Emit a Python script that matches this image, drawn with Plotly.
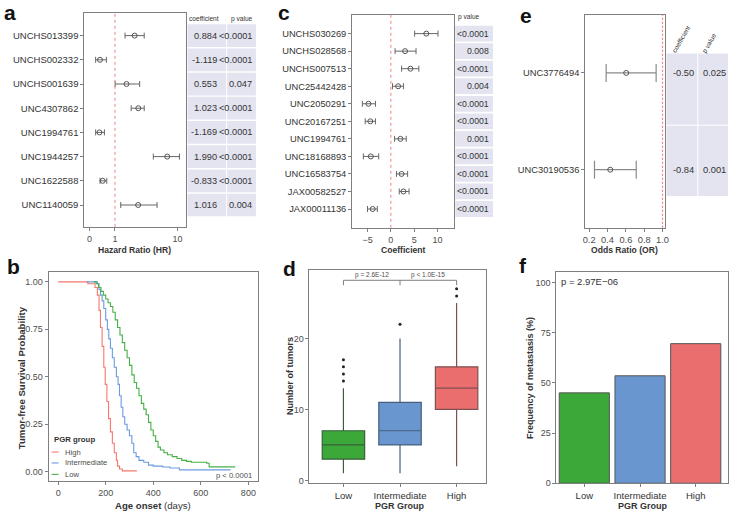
import plotly.graph_objects as go

W, H = 738, 516
def px(x): return x / W
def py(y): return 1 - y / H

FONT = "Liberation Sans, Arial, sans-serif"
GRAY = "#7f7f7f"
TXT = "#333333"
TICK = "#4d4d4d"
CELL = "#e4e4f0"
RED_LINE = "#f08080"

# ---------------- data ----------------
a_markers = ["UNCHS013399", "UNCHS002332", "UNCHS001639", "UNC4307862",
             "UNC1994761", "UNC1944257", "UNC1622588", "UNC1140059"]
a_hr = [2.42, 0.33, 1.74, 2.78, 0.31, 7.32, 0.43, 2.76]
a_lo = [1.63, 0.18, 1.01, 2.11, 0.18, 4.69, 0.33, 1.34]
a_hi = [3.44, 0.58, 2.92, 3.44, 0.50, 10.6, 0.60, 5.30]
a_coef = ["0.884", "-1.119", "0.553", "1.023", "-1.169", "1.990", "-0.833", "1.016"]
a_p = ["<0.0001", "<0.0001", "0.047", "<0.0001", "<0.0001", "<0.0001", "<0.0001", "0.004"]
a_ticks = [0, 1, 10]

c_markers = ["UNCHS030269", "UNCHS028568", "UNCHS007513", "UNC25442428", "UNC2050291",
             "UNC20167251", "UNC1994761", "UNC18168893", "UNC16583754", "JAX00582527",
             "JAX00011136"]
c_coef = [7.6, 3.05, 4.2, 1.56, -4.8, -4.4, 2.05, -4.3, 2.3, 2.7, -3.9]
c_lo = [5.1, 0.9, 2.3, 0.35, -6.1, -5.5, 0.8, -5.9, 1.2, 1.8, -5.0]
c_hi = [10.1, 5.4, 6.0, 2.7, -3.3, -3.3, 3.3, -2.6, 3.6, 3.9, -2.9]
c_p = ["<0.0001", "0.008", "<0.0001", "0.004", "<0.0001", "<0.0001", "0.001",
       "<0.0001", "<0.0001", "<0.0001", "<0.0001"]
c_ticks = [-5, 0, 5, 10]

e_markers = ["UNC3776494", "UNC30190536"]
e_or = [0.604, 0.43]
e_lo = [0.385, 0.258]
e_hi = [0.93, 0.713]
e_coef = ["-0.50", "-0.84"]
e_p = ["0.025", "0.001"]
e_ticks = [0.2, 0.4, 0.6, 0.8, 1.0]

groups = ["High", "Intermediate", "Low"]
group_colors = {"High": "#f8766d", "Intermediate": "#6a9ae0", "Low": "#44b044"}

km_high_t = [0, 125, 155, 165, 172, 178, 185, 192, 198, 205, 212, 220, 228, 236, 245, 250, 258, 270, 331]
km_high_s = [1.0, 0.99, 0.97, 0.93, 0.85, 0.76, 0.66, 0.55, 0.46, 0.37, 0.28, 0.21, 0.15, 0.10, 0.06, 0.03, 0.015, 0.005, 0.005]
km_int_t = [120, 165, 172, 178, 185, 192, 200, 207, 213, 220, 228, 236, 245, 252, 258, 265, 272, 280,
            290, 300, 310, 318, 328, 340, 360, 380, 400, 440, 470, 510, 725]
km_int_s = [1.0, 0.99, 0.96, 0.93, 0.90, 0.86, 0.80, 0.75, 0.70, 0.65, 0.60, 0.55, 0.50, 0.46, 0.40, 0.34, 0.29, 0.25,
            0.22, 0.19, 0.15, 0.10, 0.08, 0.06, 0.05, 0.035, 0.03, 0.025, 0.02, 0.01, 0.01]
km_low_t = [150, 160, 170, 180, 190, 200, 210, 220, 230, 240, 250, 260, 270, 280, 290, 300, 310, 320, 330, 340,
            350, 360, 370, 380, 390, 400, 410, 420, 430, 445, 460, 480, 500, 520, 540, 560, 625, 635, 745]
km_low_s = [1.0, 0.99, 0.97, 0.95, 0.93, 0.91, 0.89, 0.87, 0.84, 0.80, 0.76, 0.72, 0.68, 0.64, 0.60, 0.56, 0.51,
            0.47, 0.44, 0.40, 0.36, 0.33, 0.30, 0.26, 0.22, 0.19, 0.16, 0.13, 0.115, 0.10, 0.09, 0.08, 0.07, 0.06,
            0.055, 0.05, 0.045, 0.026, 0.026]
km_ticks_x = [0, 200, 400, 600, 800]
km_ticks_y = [0.0, 0.25, 0.50, 0.75, 1.00]

cat_order = ["Low", "Intermediate", "High"]
box_q1 = [3, 5, 10]
box_med = [5, 7, 13]
box_q3 = [7, 11, 16]
box_lo = [1, 1, 2]
box_hi = [13, 20, 25]
box_out = [[14, 15, 16, 17], [22], [26, 27]]
box_colors = ["#3da83a", "#6a96d0", "#eb6e6e"]
box_edges = ["#3a5f3a", "#44607f", "#7f5050"]

meta_freq = [45.0, 53.5, 69.5]

fig = go.Figure()

def axis_common(**kw):
    d = dict(showline=True, mirror=True, linecolor=GRAY, linewidth=1, ticks="outside",
             ticklen=3, tickcolor=GRAY, showgrid=False, zeroline=False,
             tickfont=dict(size=9, color=TICK, family=FONT), fixedrange=True)
    d.update(kw)
    return d

# ---------------- panel a ----------------
a_y = list(range(len(a_markers)))
a_x = [1 + v for v in a_hr]
fig.add_trace(go.Scatter(
    x=a_x, y=a_y, mode="markers", xaxis="x", yaxis="y",
    marker=dict(symbol="circle-open", size=5, color="#555555", line=dict(width=1)),
    error_x=dict(type="data", symmetric=False,
                 array=[h - v for h, v in zip(a_hi, a_hr)],
                 arrayminus=[v - l for v, l in zip(a_hr, a_lo)],
                 color="#666666", thickness=1, width=3)))
fig.update_layout(
    xaxis=axis_common(domain=[px(83), px(186)], anchor="y", type="log",
                      range=[-0.062, 1.148], tickvals=[1 + t for t in a_ticks],
                      ticktext=[str(t) for t in a_ticks]),
    yaxis=axis_common(domain=[py(229), py(13)], anchor="x", range=[7.9, -0.94],
                      tickvals=a_y, ticktext=a_markers,
                      tickfont=dict(size=9.5, color=TXT, family=FONT)))

# ---------------- panel c ----------------
c_y = list(range(len(c_markers)))
fig.add_trace(go.Scatter(
    x=c_coef, y=c_y, mode="markers", xaxis="x2", yaxis="y2",
    marker=dict(symbol="circle-open", size=5, color="#555555", line=dict(width=1)),
    error_x=dict(type="data", symmetric=False,
                 array=[h - v for h, v in zip(c_hi, c_coef)],
                 arrayminus=[v - l for v, l in zip(c_coef, c_lo)],
                 color="#666666", thickness=1, width=3)))
fig.update_layout(
    xaxis2=axis_common(domain=[px(353), px(456)], anchor="y2", range=[-8.3, 13.6],
                       tickvals=c_ticks),
    yaxis2=axis_common(domain=[py(230), py(15)], anchor="x2", range=[11.07, -1.07],
                       tickvals=c_y, ticktext=c_markers,
                       tickfont=dict(size=9.3, color=TXT, family=FONT)))

# ---------------- panel e ----------------
e_y = list(range(len(e_markers)))
fig.add_trace(go.Scatter(
    x=e_or, y=e_y, mode="markers", xaxis="x3", yaxis="y3",
    marker=dict(symbol="circle-open", size=5, color="#555555", line=dict(width=1)),
    error_x=dict(type="data", symmetric=False,
                 array=[h - v for h, v in zip(e_hi, e_or)],
                 arrayminus=[v - l for v, l in zip(e_or, e_lo)],
                 color="#8a8a8a", thickness=1.2, width=9)))
fig.update_layout(
    xaxis3=axis_common(domain=[px(588), px(668)], anchor="y3", range=[0.157, 1.022],
                       tickvals=e_ticks, ticktext=["%.1f" % t for t in e_ticks],
                       tickfont=dict(size=9.3, color=TICK, family=FONT)),
    yaxis3=axis_common(domain=[py(230), py(15)], anchor="x3", range=[1.6, -0.6],
                       tickvals=e_y, ticktext=e_markers,
                       tickfont=dict(size=9.3, color=TXT, family=FONT)))

# ---------------- panel b (KM) ----------------
for g, t, s in [("High", km_high_t, km_high_s), ("Intermediate", km_int_t, km_int_s),
                ("Low", km_low_t, km_low_s)]:
    fig.add_trace(go.Scatter(x=t, y=s, mode="lines", line_shape="hv", xaxis="x4", yaxis="y4",
                             line=dict(color=group_colors[g], width=1.1), name=g))
fig.update_layout(
    xaxis4=axis_common(domain=[px(47), px(258)], anchor="y4", range=[-40, 840],
                       tickvals=km_ticks_x, tickfont=dict(size=9, color=TICK, family=FONT)),
    yaxis4=axis_common(domain=[py(486), py(275)], anchor="x4", range=[-0.05, 1.05],
                       tickvals=km_ticks_y, ticktext=["%.2f" % v for v in km_ticks_y],
                       tickfont=dict(size=9, color=TICK, family=FONT)))

# ---------------- panel d (box) ----------------
for i in range(3):
    fig.add_trace(go.Box(x=[i], q1=[box_q1[i]], median=[box_med[i]], q3=[box_q3[i]],
                         lowerfence=[box_lo[i]], upperfence=[box_hi[i]],
                         xaxis="x5", yaxis="y5", width=0.75, whiskerwidth=0,
                         fillcolor=box_colors[i], line=dict(color=box_edges[i], width=1.2),
                         boxpoints=False))
    fig.add_trace(go.Scatter(x=[i] * len(box_out[i]), y=box_out[i], mode="markers",
                             xaxis="x5", yaxis="y5",
                             marker=dict(color="#222222", size=3)))
fig.update_layout(
    xaxis5=axis_common(domain=[px(310), px(488)], anchor="y5", range=[-0.6, 2.52],
                       tickvals=[0, 1, 2], ticktext=cat_order,
                       tickfont=dict(size=9.5, color=TXT, family=FONT)),
    yaxis5=axis_common(domain=[py(488), py(273)], anchor="x5", range=[-0.4, 29.6],
                       tickvals=[0, 10, 20], tickfont=dict(size=9, color=TICK, family=FONT)))

# ---------------- panel f (bar) ----------------
fig.add_trace(go.Bar(x=[0, 1, 2], y=meta_freq, width=0.9, xaxis="x6", yaxis="y6",
                     marker=dict(color=box_colors, line=dict(color="#555555", width=1))))
fig.update_layout(
    xaxis6=axis_common(domain=[px(559), px(732)], anchor="y6", range=[-0.5, 2.58],
                       tickvals=[0, 1, 2], ticktext=cat_order,
                       tickfont=dict(size=9.5, color=TXT, family=FONT)),
    yaxis6=axis_common(domain=[py(488), py(275)], anchor="x6", range=[0, 105],
                       tickvals=[0, 25, 50, 75, 100],
                       tickfont=dict(size=9, color=TICK, family=FONT)))

shapes = []
ann = []

def text(x, y, s, size=9, bold=False, color=TXT, xanchor="center", yanchor="middle",
         angle=0, xref="paper", yref="paper"):
    if bold:
        s = "<b>%s</b>" % s
    ann.append(dict(x=x, y=y, xref=xref, yref=yref, text=s, showarrow=False,
                    xanchor=xanchor, yanchor=yanchor, textangle=angle,
                    font=dict(size=size, color=color, family=FONT)))

# reference lines
shapes.append(dict(type="line", xref="x", yref="paper", x0=2, x1=2, y0=py(229), y1=py(13),
                   line=dict(color=RED_LINE, width=1, dash="3px,3px")))
shapes.append(dict(type="line", xref="x2", yref="paper", x0=0, x1=0, y0=py(230), y1=py(15),
                   line=dict(color=RED_LINE, width=1, dash="3px,3px")))
shapes.append(dict(type="line", xref="x3", yref="paper", x0=1.0, x1=1.0, y0=py(230), y1=py(15),
                   line=dict(color=RED_LINE, width=1.2, dash="2px,2px")))

# table a
for i in range(len(a_markers)):
    for (x0, x1) in [(187, 226), (227, 256)]:
        shapes.append(dict(type="rect", xref="paper", yref="y", x0=px(x0), x1=px(x1),
                           y0=i - 0.47, y1=i + 0.47, fillcolor=CELL, line=dict(width=0),
                           layer="below"))
    text(px(219), i, a_coef[i], size=9.2, xanchor="right", yref="y")
    text(px(254), i, a_p[i], size=9.2, xanchor="right", yref="y")
text(px(187), py(19), "coefficient", size=6.6, xanchor="left")
text(px(229), py(19), "p value", size=6.6, xanchor="left")

# table c
for i in range(len(c_markers)):
    shapes.append(dict(type="rect", xref="paper", yref="y2", x0=px(457), x1=px(495),
                       y0=i - 0.45, y1=i + 0.45, fillcolor=CELL, line=dict(width=0),
                       layer="below"))
    text(px(493), i, c_p[i], size=8.7, xanchor="right", yref="y2")
text(px(458), py(17), "p value", size=6.6, xanchor="left")

# table e
for (y0, y1) in [(54, 126), (127, 198)]:
    for (x0, x1) in [(670, 701), (702, 732)]:
        shapes.append(dict(type="rect", xref="paper", yref="paper", x0=px(x0), x1=px(x1),
                           y0=py(y1), y1=py(y0), fillcolor=CELL, line=dict(width=0),
                           layer="below"))
for i in range(len(e_markers)):
    text(px(687), i, e_coef[i], size=9.3, yref="y3")
    text(px(718), i, e_p[i], size=9.3, yref="y3")
text(px(685), py(39), "coefficient", size=6.6, angle=-60)
text(px(713), py(43), "p value", size=6.6, angle=-60)

# axis titles
text(px(134), py(252), "Hazard Ratio (HR)", size=8.6, bold=True)
text(px(405), py(252), "Coefficient", size=8.6, bold=True)
text(px(628), py(252), "Odds Ratio (OR)", size=8.6, bold=True)
text(px(19), py(381), "Tumor-free Survival Probability", size=9.6, bold=True, angle=-90)
text(px(152), py(510), "<b>Age onset</b> (days)", size=9.6)
text(px(291), py(380), "Number of tumors", size=9, bold=True, angle=-90)
text(px(401), py(511), "PGR Group", size=9, bold=True)
text(px(533), py(382), "Frequency of metastasis (%)", size=9, bold=True, angle=-90)
text(px(646), py(511), "PGR Group", size=9, bold=True)

# KM legend + p
text(px(50), py(444), "PGR group", size=7.8, bold=True, xanchor="left")
for k, g in enumerate(groups):
    yy = [456.5, 467.5, 479][k]
    shapes.append(dict(type="line", xref="paper", yref="paper", x0=px(50), x1=px(57),
                       y0=py(yy), y1=py(yy), line=dict(color=group_colors[g], width=1.1)))
    text(px(61.5), py(yy), g, size=7.6, xanchor="left", color=TICK)
text(px(254), py(480), "p < 0.0001", size=7.6, xanchor="right", color=TICK)

# box bracket
shapes.append(dict(type="line", xref="x5", yref="y5", x0=0, x1=2, y0=28.2, y1=28.2,
                   line=dict(color=GRAY, width=1)))
for xv in [0, 1, 2]:
    shapes.append(dict(type="line", xref="x5", yref="y5", x0=xv, x1=xv, y0=28.2, y1=27.5,
                       line=dict(color=GRAY, width=1)))
text(0.5, 29.0, "p = 2.6E-12", size=6.5, xref="x5", yref="y5", color=TICK)
text(1.5, 29.0, "p < 1.0E-15", size=6.5, xref="x5", yref="y5", color=TICK)

# f p
text(px(562), py(284), "p = 2.97E\u221206", size=9.5, xanchor="left", color=TXT)

# panel letters
for L, x, y in [("a", 0, 13), ("c", 276, 13), ("e", 520, 16),
                ("b", 3, 269), ("d", 281, 271), ("f", 519, 268)]:
    text(px(x), py(y), L, size=21, bold=True, xanchor="left", color="#111111")

fig.update_layout(width=W, height=H, margin=dict(l=0, r=0, t=0, b=0),
                  plot_bgcolor="white", paper_bgcolor="white", showlegend=False,
                  font=dict(family=FONT), shapes=shapes, annotations=ann)

fig.write_html("out.html", config={"displayModeBar": False},
               post_script="document.body.style.margin='0';")
